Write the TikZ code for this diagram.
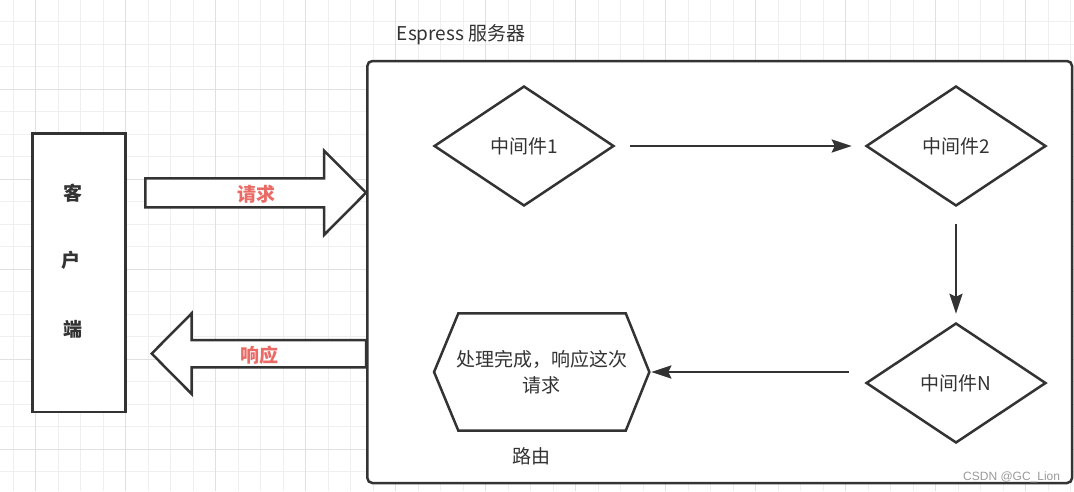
\documentclass[tikz,border=0pt]{standalone}
\usepackage{fontspec}
\setmainfont{Noto Sans CJK SC}
\newfontfamily\wmfont{Liberation Sans}
\usetikzlibrary{shapes.geometric,arrows.meta}
\definecolor{ink}{HTML}{333333}
\definecolor{gridminor}{HTML}{EFEFEF}
\definecolor{gridmajor}{HTML}{E0E0E0}
\definecolor{lblred}{HTML}{EA6B66}
\definecolor{wmgrey}{HTML}{9A9A9A}
\begin{document}
\begin{tikzpicture}[x=1pt,y=-1pt,
  outline/.style={draw=ink, line width=2.5pt, line join=miter},
  boxshape/.style={outline, fill=white, inner sep=0pt},
  dia/.style={diamond, outline, fill=white, aspect=1.5, inner sep=0pt,
    minimum width=180pt, minimum height=120pt, text=ink,
    font=\fontsize{19}{22}\selectfont},
  txt/.style={text=ink, font=\fontsize{19}{22}\selectfont},
  ctext/.style={text=ink, font=\bfseries\fontsize{19}{22}\selectfont},
  lbl/.style={text=lblred, font=\bfseries\fontsize{19}{22}\selectfont},
  conn/.style={draw=ink, line width=2.6pt,
    -{Stealth[length=20pt,width=13pt,inset=3pt]}},
  gminor/.style={draw=gridminor, line width=1pt},
  gmajor/.style={draw=gridmajor, line width=1pt}
]
\useasboundingbox (0,0) rectangle (1074,491);
\fill[white] (0,0) rectangle (1074,491);
% grid
\foreach \i in {0,...,47} \draw[gminor] ({13.2+22.5*\i},0) -- ({13.2+22.5*\i},491);
\foreach \j in {1,...,22} \draw[gminor] (0,{-0.7+22.5*\j}) -- (1074,{-0.7+22.5*\j});
\foreach \i in {0,...,11} \draw[gmajor] ({35.7+90*\i},0) -- ({35.7+90*\i},491);
\foreach \j in {1,...,5} \draw[gmajor] (0,{-0.7+90*\j}) -- (1074,{-0.7+90*\j});

% client
\node[boxshape, minimum width=93pt, minimum height=278.7pt] (client) at (78.8,272.7) {};
\node[ctext] (k1) at (73,193) {客};
\node[ctext] (k2) at (71,260) {户};
\node[ctext] (k3) at (73,329) {端};

% server
\node[boxshape, rounded corners=5pt, minimum width=704.7pt, minimum height=422pt] (server) at (719.7,272) {};
\node[txt, anchor=base west, inner sep=0pt] (title) at (396.7,40) {Espress 服务器};

% block arrows
\draw[outline, fill=white] (145.3,178.3) -- (324,178.3) -- (324,150.7) -- (366,192.7)
  -- (324,235) -- (324,207.3) -- (145.3,207.3) -- cycle;
\node[lbl] (req) at (256,194) {请求};
\draw[outline, fill=white] (366,340) -- (191.7,340) -- (191.7,313.3) -- (151.7,353.6)
  -- (191.7,394) -- (191.7,367.3) -- (366,367.3) -- cycle;
\node[lbl] (resp) at (259,355) {响应};

% middleware
\node[dia] (m1) at (524,146) {中间件1};
\node[dia] (m2) at (956,146) {中间件2};
\node[dia] (mN) at (956,383) {中间件N};

% route hexagon
\node[txt, inner sep=0pt, outer sep=0pt, align=center, minimum width=215.3pt,
  minimum height=117.4pt, font=\fontsize{19}{26}\selectfont] (hexn) at (541.7,372)
  {处理完成，响应这次\\请求};
\draw[outline] (hexn.west) -- ([xshift=24.3pt]hexn.north west)
  -- ([xshift=-23.6pt]hexn.north east) -- (hexn.east)
  -- ([xshift=-23.6pt]hexn.south east) -- ([xshift=24.3pt]hexn.south west) -- cycle;
\node[txt] (route) at (531.7,456.7) {路由};

% connectors
\draw[conn, shorten <=15pt, shorten >=13pt] (m1.east) -- (m2.west);
\draw[conn, shorten <=17pt, shorten >=8pt] (m2.south) -- (mN.north);
\draw[conn, shorten <=16pt, shorten >=2pt] (mN.west |- hexn.east) -- (hexn.east);

% watermark
\node[anchor=base west, inner sep=0pt, text=wmgrey, font=\wmfont\fontsize{12}{14}\selectfont]
  (wmk) at (963,480) {CSDN @GC\_Lion};
\end{tikzpicture}
\end{document}
